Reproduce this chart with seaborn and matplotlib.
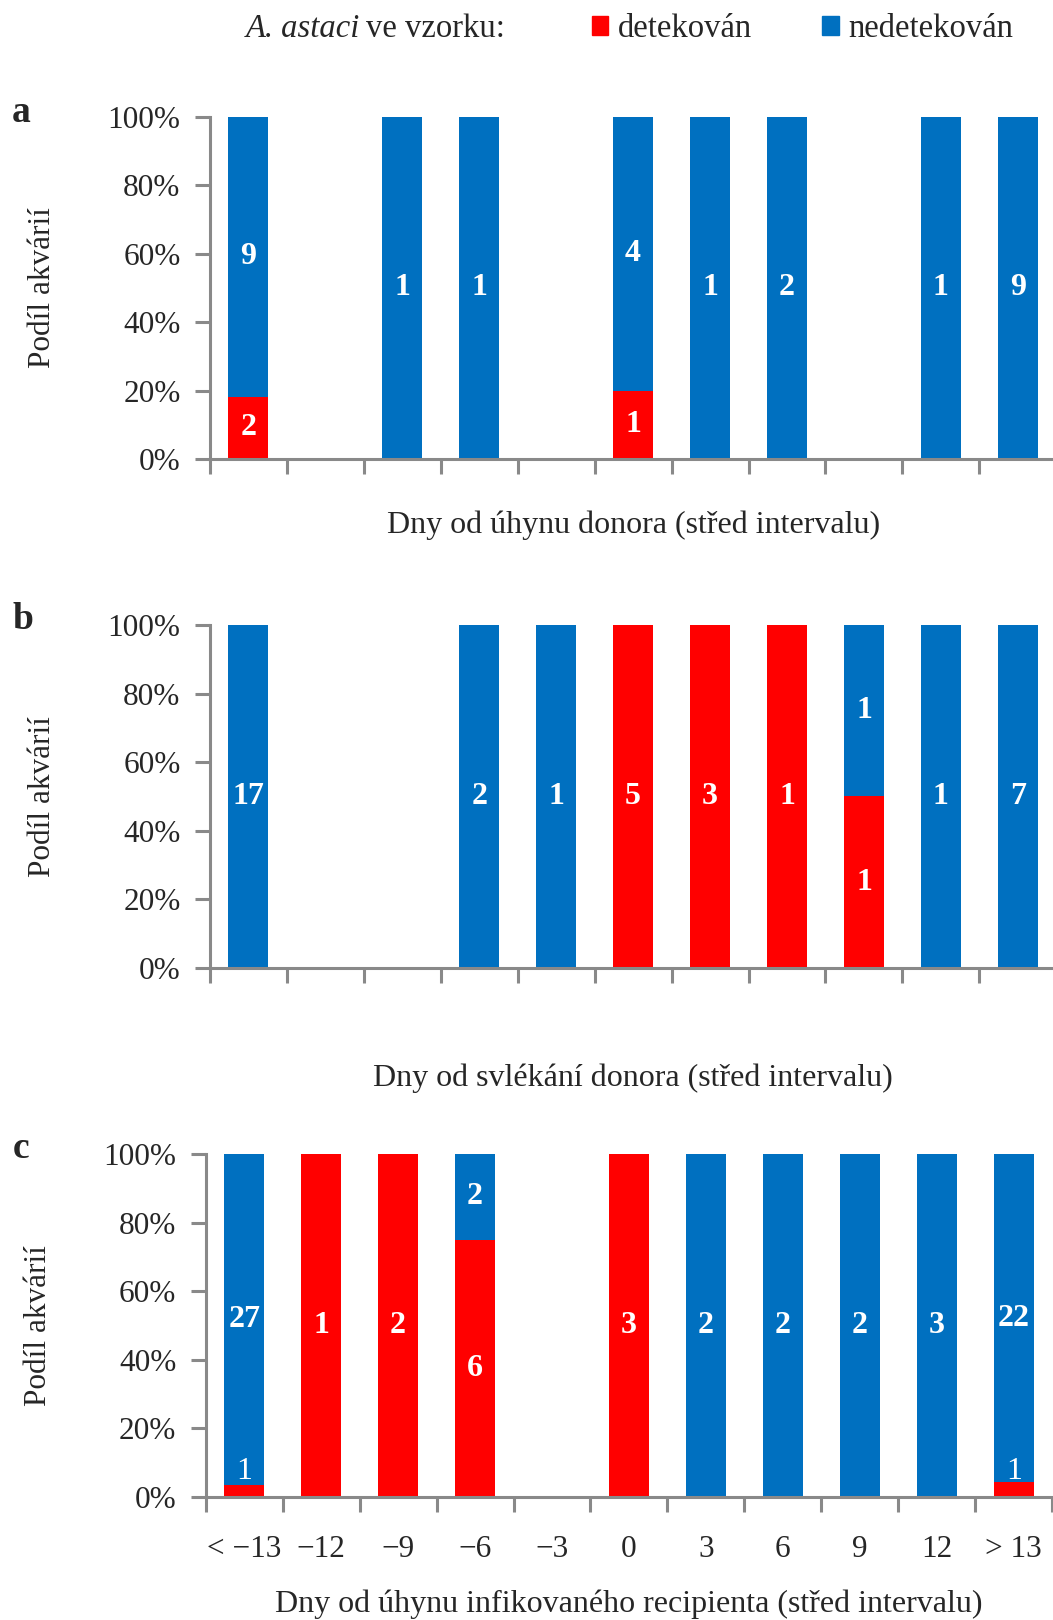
import numpy as np
import pandas as pd
import matplotlib
matplotlib.use("Agg")
import matplotlib.pyplot as plt
import seaborn as sns
from matplotlib.patches import Patch
from matplotlib.ticker import PercentFormatter

## data: counts of aquaria per interval (detected / not detected)
days = ["< −13", "−12", "−9", "−6", "−3", "0", "3", "6", "9", "12", "> 13"]

a_det = [2, 0, 0, 0, 0, 1, 0, 0, 0, 0, 0]
a_nondet = [9, 0, 1, 1, 0, 4, 1, 2, 0, 1, 9]
b_det = [0, 0, 0, 0, 0, 5, 3, 1, 1, 0, 0]
b_nondet = [17, 0, 0, 2, 1, 0, 0, 0, 1, 1, 7]
c_det = [1, 1, 2, 6, 0, 3, 0, 0, 0, 0, 1]
c_nondet = [27, 0, 0, 2, 0, 0, 2, 2, 2, 3, 22]

xlabels = ["Dny od úhynu donora (střed intervalu)",
           "Dny od svlékání donora (střed intervalu)",
           "Dny od úhynu infikovaného recipienta (střed intervalu)"]
letters = ["a", "b", "c"]

RED = "#FF0000"
BLUE = "#0070C0"
GREY = "#898989"

sns.set_style("white")
plt.rcParams["font.family"] = ["Liberation Serif", "DejaVu Serif"]

fig = plt.figure(figsize=(10.53, 16.2), dpi=100)

# axes boxes in figure fractions (left, bottom, width, height)
boxes = [[0.1992, 0.7167, 0.804, 0.2111],
         [0.1992, 0.4025, 0.804, 0.2117],
         [0.1953, 0.0759, 0.804, 0.2117]]
xlab_y = [-0.195, -0.321, -0.312]
letter_pos = [(21, 112), (23, 620), (21, 1149)]

panels = [(a_det, a_nondet), (b_det, b_nondet), (c_det, c_nondet)]

for i, (det, nondet) in enumerate(panels):
    ax = fig.add_axes(boxes[i])
    det = np.array(det)
    nondet = np.array(nondet)
    n = det + nondet
    df = pd.DataFrame({
        "den": days,
        "celkem": np.where(n > 0, 100.0, 0.0),
        "det_pct": np.where(n > 0, det / np.maximum(n, 1) * 100, 0.0),
    })
    sns.barplot(data=df, x="den", y="celkem", order=days, color=BLUE,
                saturation=1, width=0.52, errorbar=None, linewidth=0, ax=ax)
    sns.barplot(data=df, x="den", y="det_pct", order=days, color=RED,
                saturation=1, width=0.52, errorbar=None, linewidth=0, ax=ax)

    # count labels inside the segments
    for k in range(len(days)):
        p = df["det_pct"][k]
        if det[k] > 0:
            small = p < 8
            y = max(p / 2, 7.5)
            ax.text(k, y, str(det[k]), ha="center", va="center", color="white",
                    fontsize=23, fontweight="normal" if small else "bold")
        if nondet[k] > 0:
            ax.text(k, p + (100 - p) / 2, str(nondet[k]), ha="center", va="center",
                    color="white", fontsize=23, fontweight="bold")

    ax.set_xlim(-0.5, 10.5)
    ax.set_ylim(0, 100)
    ax.set_yticks(range(0, 101, 20))
    ax.yaxis.set_major_formatter(PercentFormatter(decimals=0))
    ax.set_xticks(np.arange(-0.5, 11, 1), minor=True)
    ax.tick_params(axis="x", which="major", length=0, pad=27, labelsize=22.5)
    ax.tick_params(axis="x", which="minor", length=11, width=2.2, color=GREY,
                   direction="out", bottom=True)
    ax.tick_params(axis="y", length=11, width=2.2, color=GREY, pad=10,
                   labelsize=22.5, left=True, direction="out")
    if i < 2:
        ax.set_xticklabels([])

    for s in ["top", "right"]:
        ax.spines[s].set_visible(False)
    for s in ["left", "bottom"]:
        ax.spines[s].set_color(GREY)
        ax.spines[s].set_linewidth(2.2)

    ax.set_ylabel("Podíl akvárií", fontsize=22.5)
    ax.yaxis.label.set_verticalalignment("center")
    ax.yaxis.set_label_coords(-0.197, 0.5)
    ax.set_xlabel(xlabels[i], fontsize=23)
    ax.xaxis.label.set_verticalalignment("center")
    ax.xaxis.set_label_coords(0.5, xlab_y[i])

    lx, ly = letter_pos[i]
    fig.text(lx / 1053, 1 - ly / 1620, letters[i], fontsize=27,
             fontweight="bold", ha="center", va="center")

# legend row on top
ty = 1 - 29 / 1620
fig.text(246 / 1053, ty, "A. astaci", fontsize=23.5, style="italic",
         ha="left", va="center")
fig.text(366 / 1053, ty, "ve vzorku:", fontsize=23.5,
         ha="left", va="center")
handles = [Patch(color=RED, label="detekován"), Patch(color=BLUE, label="nedetekován")]
fig.legend(handles=handles, loc="center left", bbox_to_anchor=(592 / 1053, ty),
           ncol=2, frameon=False, fontsize=23.5, handlelength=0.5, handleheight=0.5,
           handletextpad=0.3, columnspacing=2.15, borderpad=0, borderaxespad=0)

fig.savefig("out.png", dpi=100)
